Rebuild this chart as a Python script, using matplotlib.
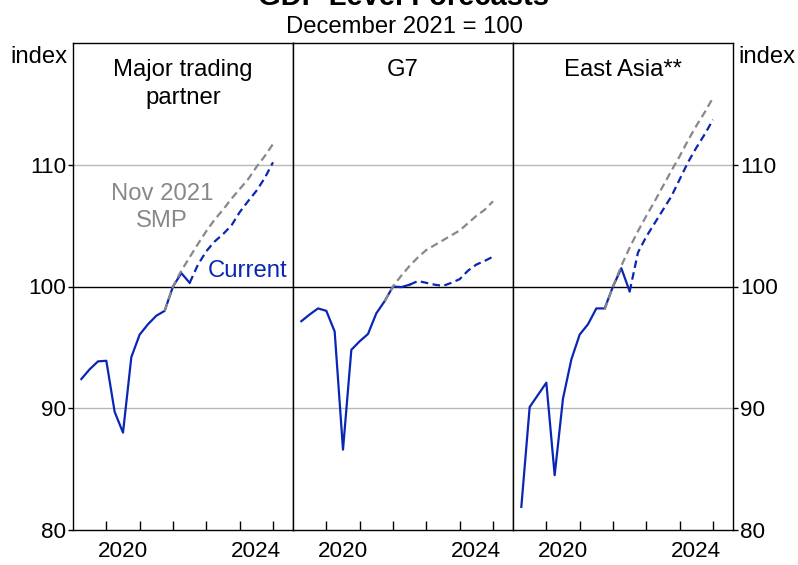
import numpy as np
import pandas as pd
import matplotlib.pyplot as plt

plt.rcParams['font.family'] = ['Liberation Sans', 'DejaVu Sans']

# quarters 2019Q1 .. 2024Q4, plotted at quarter end
quarters = pd.period_range("2019Q1", "2024Q4", freq="Q")
x = np.array([q.year + q.quarter / 4 for q in quarters])

panel_titles = ["Major trading\npartner", "G7", "East Asia**"]

mtp_current = [92.4, 93.2, 93.85, 93.9, 89.7, 88.0, 94.2, 96.05, 96.9, 97.6, 98.0, 100.0,
               101.1, 100.3, 101.8, 102.9, 103.7, 104.3, 105.0, 106.1, 107.0, 107.85, 108.9, 110.2]
mtp_smp = [98.0, 100.0, 101.3, 102.4, 103.5, 104.55, 105.5, 106.3, 107.2, 108.0, 108.8,
           109.8, 110.7, 111.7]

g7_current = [97.15, 97.7, 98.2, 98.0, 96.3, 86.6, 94.8, 95.5, 96.1, 97.8, 98.8, 100.0,
              99.95, 100.15, 100.45, 100.3, 100.15, 100.05, 100.3, 100.6, 101.3, 101.8, 102.1, 102.45]
g7_smp = [98.8, 100.0, 100.9, 101.7, 102.4, 103.0, 103.4, 103.8, 104.2, 104.6, 105.2,
          105.8, 106.3, 107.0]

ea_current = [81.9, 90.1, 91.1, 92.1, 84.5, 90.8, 94.0, 96.05, 96.9, 98.2, 98.2, 100.0,
              101.5, 99.6, 102.8, 104.1, 105.2, 106.3, 107.4, 108.8, 110.2, 111.4, 112.5, 113.7]
ea_smp = [98.1, 100.0, 101.7, 103.2, 104.55, 105.8, 107.0, 108.25, 109.5, 110.7, 112.0,
          113.2, 114.3, 115.5]

current = [mtp_current, g7_current, ea_current]
smp = [mtp_smp, g7_smp, ea_smp]

n_actual = 14   # solid through 2022Q2, dashed after
smp_start = 10  # Nov 2021 SMP drawn from 2021Q3

blue = "#0a26b4"
grey = "#888888"
grid_c = "#b8b8b8"
fs = 17.2      # titles / annotations
tfs = 16.2     # tick labels

fig = plt.figure(figsize=(7.98, 5.65), dpi=100)
W, H = 798, 565
left, top, bottom, pw = 73, 43, 530, 220

axes = []
for i in range(3):
    ax = fig.add_axes([(left + i * pw) / W, (H - bottom) / H, pw / W, (bottom - top) / H])
    axes.append(ax)
    cur = np.array(current[i])
    ax.axhline(100, color="black", lw=1.0, zorder=2)
    for yv in (90, 110):
        ax.axhline(yv, color=grid_c, lw=1.0, zorder=1)
    ax.plot(x[:n_actual], cur[:n_actual], color=blue, lw=1.6, zorder=3)
    ax.plot(x[n_actual - 1:], cur[n_actual - 1:], color=blue, lw=1.6,
            dashes=(3.4, 2.0), zorder=3)
    ax.plot(x[smp_start:], smp[i], color=grey, lw=1.6, dashes=(3.4, 2.0), zorder=4)

    ax.set_xlim(2019.0, 2025.6)
    ax.set_ylim(80, 120)
    ax.set_xticks([2020, 2021, 2022, 2023, 2024, 2025])
    ax.set_xticklabels([])
    ax.set_xticks([2020.5, 2024.5], minor=True)
    ax.set_xticklabels(["2020", "2024"], minor=True, fontsize=tfs)
    ax.tick_params(axis="x", which="major", direction="in", length=6.5, width=1, top=False)
    ax.tick_params(axis="x", which="minor", length=0, pad=8)
    ax.set_yticks([80, 90, 100, 110])
    ax.set_yticklabels(["80", "90", "100", "110"])
    for s in ax.spines.values():
        s.set_linewidth(1.0)
    ax.text(0.5, 0.968, panel_titles[i], transform=ax.transAxes, ha="center", va="top",
            fontsize=fs, linespacing=1.38)

for i, ax in enumerate(axes):
    if i == 0:
        ax.tick_params(axis="y", left=True, right=False, labelleft=True, labelright=False,
                       length=3.5, pad=1.5, labelsize=tfs, width=1)
    elif i == 2:
        ax.tick_params(axis="y", left=False, right=True, labelleft=False, labelright=True,
                       length=3.5, pad=1.5, labelsize=tfs, width=1)
    else:
        ax.tick_params(axis="y", left=False, right=False, labelleft=False, labelright=False)
    for t, v in zip(ax.yaxis.get_major_ticks(), [80, 90, 100, 110]):
        c = "black" if v in (80, 100) else grid_c
        t.tick1line.set_color(c)
        t.tick2line.set_color(c)

axes[0].text(2021.67, 106.5, "Nov 2021\nSMP", color=grey, ha="center", va="center",
             fontsize=fs, linespacing=1.3)
axes[0].text(2023.05, 100.74, "Current", color=blue, ha="left", va="baseline", fontsize=fs)

fig.text(68 / W, 1 - 63 / H, "index", ha="right", va="baseline", fontsize=fs)
fig.text(738 / W, 1 - 63 / H, "index", ha="left", va="baseline", fontsize=fs)
fig.text(404 / W, 1 - 33 / H, "December 2021 = 100", ha="center", va="baseline", fontsize=fs)
fig.text(404 / W, 1 - 5 / H, "GDP Level Forecasts", ha="center", va="baseline",
         fontsize=21, fontweight="bold")

fig.savefig("out.png", dpi=100)
